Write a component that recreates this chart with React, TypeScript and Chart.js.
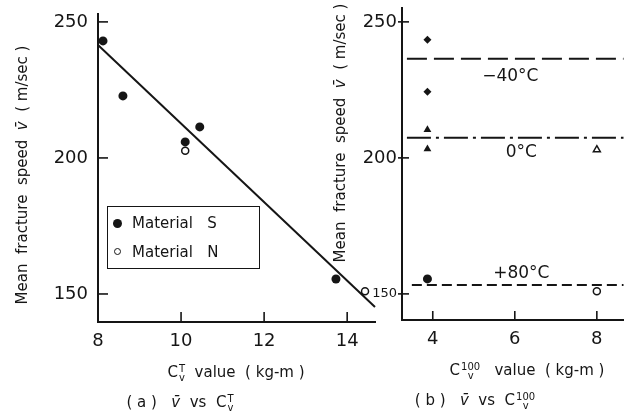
import React, { useEffect, useRef } from 'react';
import { Chart, registerables } from 'chart.js';

Chart.register(...registerables);

const INK = '#151515';
const FONT = '"DejaVu Sans", sans-serif';

// ---------- Panel (a): mean fracture speed vs Cv^T ----------
const A_X_TICKS = [8, 10, 12, 14];
const A_Y_TICKS = [150, 200, 250];
const A_X_RANGE = [8, 14.67];
const A_Y_RANGE = [139.7, 252.9];
const S_CV = [8.12, 8.6, 10.1, 10.45, 13.73];
const S_V = [243, 222.8, 205.9, 211.4, 155.5];
const N_CV = [10.1, 14.43];
const N_V = [202.6, 151];
const FIT_CV = [8, 14.67];
const FIT_V = [241.5, 145.2];

// ---------- Panel (b): mean fracture speed vs Cv^100 ----------
const B_X_TICKS = [4, 6, 8];
const B_Y_TICKS = [150, 200, 250];
const B_X_RANGE = [3.25, 8.65];
const B_Y_RANGE = [140.4, 255.1];
const M40_CV = [3.87, 3.87];
const M40_V = [243.4, 224.3];
const Z_S_CV = [3.87, 3.87];
const Z_S_V = [210.3, 203.3];
const Z_N_CV = [8];
const Z_N_V = [203];
const P80_S_CV = [3.87];
const P80_S_V = [155.5];
const P80_N_CV = [8];
const P80_N_V = [151];
const LEVEL_TEMPS = ['\u221240\u00b0C', '0\u00b0C', '+80\u00b0C'];
const LEVEL_V = [236.4, 207.4, 153.3];
const LEVEL_START = [3.37, 3.37, 3.49];
const LEVEL_END = [8.65, 8.65, 8.65];
const LEVEL_DASH = [[20, 7], [24, 5, 3, 5], [10, 5]];
const LABEL_CV = [5.89, 6.16, 6.16];
const LABEL_V = [229.8, 201.8, 157.4];

const pts = (xs: number[], ys: number[]) => xs.map((x, i) => ({ x, y: ys[i] }));

function tickPlugin(xLen: number, yOut: number, yIn: number) {
  return {
    id: 'inwardTicks',
    afterDatasetsDraw(chart: any) {
      const { ctx, chartArea } = chart;
      const xs = chart.scales.x;
      const ys = chart.scales.y;
      ctx.save();
      ctx.strokeStyle = INK;
      ctx.lineWidth = 1.6;
      xs.ticks.forEach((t: any) => {
        const px = xs.getPixelForValue(t.value);
        if (Math.abs(px - chartArea.left) < 3) return;
        ctx.beginPath();
        ctx.moveTo(px, chartArea.bottom);
        ctx.lineTo(px, chartArea.bottom - xLen);
        ctx.stroke();
      });
      ys.ticks.forEach((t: any) => {
        const py = ys.getPixelForValue(t.value);
        ctx.beginPath();
        ctx.moveTo(chartArea.left - yOut, py);
        ctx.lineTo(chartArea.left + yIn, py);
        ctx.stroke();
      });
      ctx.restore();
    },
  };
}

const levelLabelPlugin = {
  id: 'levelLabels',
  afterDatasetsDraw(chart: any) {
    const { ctx } = chart;
    const xs = chart.scales.x;
    const ys = chart.scales.y;
    ctx.save();
    ctx.fillStyle = INK;
    ctx.font = `17px ${FONT}`;
    ctx.textAlign = 'center';
    ctx.textBaseline = 'middle';
    LEVEL_TEMPS.forEach((t, i) => {
      ctx.fillText(t, xs.getPixelForValue(LABEL_CV[i]), ys.getPixelForValue(LABEL_V[i]));
    });
    ctx.restore();
  },
};

const noPad = (s: any) => {
  s.paddingTop = 0;
  s.paddingBottom = 0;
  s.paddingLeft = 0;
  s.paddingRight = 0;
};

function baseScales(
  xr: number[], yr: number[], xt: number[], yt: number[],
  yWidth: number, xHeight: number, yPad: number, yFont: (v: number) => number
) {
  return {
    x: {
      type: 'linear',
      min: xr[0],
      max: xr[1],
      afterBuildTicks: (s: any) => { s.ticks = xt.map((v) => ({ value: v })); },
      afterFit: (s: any) => { s.height = xHeight; noPad(s); },
      grid: { display: false, drawTicks: false },
      border: { display: true, color: INK, width: 2 },
      ticks: { color: INK, font: { family: FONT, size: 18 }, padding: 9, maxRotation: 0, autoSkip: false },
    },
    y: {
      type: 'linear',
      min: yr[0],
      max: yr[1],
      afterBuildTicks: (s: any) => { s.ticks = yt.map((v) => ({ value: v })); },
      afterFit: (s: any) => { s.width = yWidth; noPad(s); },
      grid: { display: false, drawTicks: false },
      border: { display: true, color: INK, width: 2 },
      ticks: {
        color: INK,
        padding: yPad,
        autoSkip: false,
        font: (c: any) => ({ family: FONT, size: yFont(c.tick ? c.tick.value : 0) }),
      },
    },
  };
}

function PanelA() {
  const ref = useRef<HTMLCanvasElement>(null);
  useEffect(() => {
    const chart = new Chart(ref.current as HTMLCanvasElement, {
      type: 'scatter',
      data: {
        datasets: [
          {
            label: 'fit',
            data: pts(FIT_CV, FIT_V),
            showLine: true,
            borderColor: INK,
            borderWidth: 2,
            pointRadius: 0,
            clip: false,
          } as any,
          {
            label: 'Material S',
            data: pts(S_CV, S_V),
            pointStyle: 'circle',
            pointRadius: 4.5,
            backgroundColor: INK,
            borderColor: INK,
            borderWidth: 0,
            clip: false,
          },
          {
            label: 'Material N',
            data: pts(N_CV, N_V),
            pointStyle: 'circle',
            pointRadius: 3.5,
            backgroundColor: '#fff',
            borderColor: INK,
            borderWidth: 1.5,
            clip: false,
          },
        ],
      },
      options: {
        animation: false,
        responsive: false,
        devicePixelRatio: 1,
        layout: { padding: { left: 0, top: 14, right: 15, bottom: 0 } },
        plugins: { legend: { display: false }, tooltip: { enabled: false } },
        scales: baseScales(A_X_RANGE, A_Y_RANGE, A_X_TICKS, A_Y_TICKS, 98, 90, 10, () => 18) as any,
      },
      plugins: [tickPlugin(10, 0, 10)],
    });
    return () => chart.destroy();
  }, []);
  return (
    <canvas ref={ref} width={390} height={412}
      style={{ position: 'absolute', left: 0, top: 0, display: 'block' }} />
  );
}

function PanelB() {
  const ref = useRef<HTMLCanvasElement>(null);
  useEffect(() => {
    const levelSets = LEVEL_TEMPS.map((t, i) => ({
      label: t,
      data: pts([LEVEL_START[i], LEVEL_END[i]], [LEVEL_V[i], LEVEL_V[i]]),
      showLine: true,
      borderColor: INK,
      borderWidth: 2,
      borderDash: LEVEL_DASH[i],
      pointRadius: 0,
      clip: false,
    }));
    const chart = new Chart(ref.current as HTMLCanvasElement, {
      type: 'scatter',
      data: {
        datasets: [
          ...(levelSets as any[]),
          {
            label: '-40 S',
            data: pts(M40_CV, M40_V),
            pointStyle: 'rectRot',
            pointRadius: 4,
            backgroundColor: INK,
            borderColor: INK,
            borderWidth: 0,
            clip: false,
          },
          {
            label: '0 S',
            data: pts(Z_S_CV, Z_S_V),
            pointStyle: 'triangle',
            pointRadius: 4.5,
            backgroundColor: INK,
            borderColor: INK,
            borderWidth: 0,
            clip: false,
          },
          {
            label: '0 N',
            data: pts(Z_N_CV, Z_N_V),
            pointStyle: 'triangle',
            pointRadius: 4,
            backgroundColor: '#fff',
            borderColor: INK,
            borderWidth: 1.5,
            clip: false,
          },
          {
            label: '+80 S',
            data: pts(P80_S_CV, P80_S_V),
            pointStyle: 'circle',
            pointRadius: 4.5,
            backgroundColor: INK,
            borderColor: INK,
            borderWidth: 0,
            clip: false,
          },
          {
            label: '+80 N',
            data: pts(P80_N_CV, P80_N_V),
            pointStyle: 'circle',
            pointRadius: 3.5,
            backgroundColor: '#fff',
            borderColor: INK,
            borderWidth: 1.5,
            clip: false,
          },
        ],
      },
      options: {
        animation: false,
        responsive: false,
        devicePixelRatio: 1,
        layout: { padding: { left: 0, top: 8, right: 4, bottom: 0 } },
        plugins: { legend: { display: false }, tooltip: { enabled: false } },
        scales: baseScales(B_X_RANGE, B_Y_RANGE, B_X_TICKS, B_Y_TICKS, 82, 92, 5, (v) => (v === 150 ? 13 : 18)) as any,
      },
      plugins: [tickPlugin(9, 4, 7), levelLabelPlugin],
    });
    return () => chart.destroy();
  }, []);
  return (
    <canvas ref={ref} width={309} height={412}
      style={{ position: 'absolute', left: 320, top: 0, display: 'block' }} />
  );
}

function CSub({ sup }: { sup: string }) {
  return (
    <span>
      C
      <span style={{ display: 'inline-flex', flexDirection: 'column', fontSize: 10, lineHeight: '9px', verticalAlign: 'middle', marginLeft: 1 }}>
        <span>{sup}</span>
        <span>v</span>
      </span>
    </span>
  );
}

const txt: React.CSSProperties = {
  position: 'absolute',
  fontFamily: FONT,
  color: INK,
  fontSize: 15,
  lineHeight: '20px',
  textAlign: 'center',
  whiteSpace: 'pre',
};

const VBAR = <i>v{'\u0304'}</i>;

function YTitle({ cx, cy }: { cx: number; cy: number }) {
  return (
    <div style={{ ...txt, width: 280, height: 20, left: cx - 140, top: cy - 10, transform: 'rotate(-90deg)', transformOrigin: 'center' }}>
      Mean  fracture  speed  {VBAR}  ( m/sec )
    </div>
  );
}

export default function App() {
  return (
    <div style={{ position: 'absolute', left: 0, top: 0, width: 629, height: 412, background: '#fff', overflow: 'hidden' }}>
      <PanelA />
      <PanelB />
      <YTitle cx={22} cy={175} />
      <YTitle cx={340} cy={133} />
      <div style={{ ...txt, left: 136, top: 362, width: 200 }}>
        <CSub sup="T" />  value  ( kg-m )
      </div>
      <div style={{ ...txt, left: 80, top: 392, width: 200 }}>
        ( a )   {VBAR}  vs  <CSub sup="T" />
      </div>
      <div style={{ ...txt, left: 427, top: 360, width: 200 }}>
        <CSub sup="100" />   value  ( kg-m )
      </div>
      <div style={{ ...txt, left: 375, top: 390, width: 200 }}>
        ( b )   {VBAR}  vs  <CSub sup="100" />
      </div>
      <div style={{ position: 'absolute', left: 107, top: 206, width: 153, height: 63, border: `1.5px solid ${INK}`, boxSizing: 'border-box', fontFamily: FONT, fontSize: 15, color: INK }}>
        <div style={{ position: 'absolute', left: 5, top: 12, width: 9, height: 9, borderRadius: '50%', background: INK }} />
        <div style={{ position: 'absolute', left: 24, top: 6, lineHeight: '20px', whiteSpace: 'pre' }}>Material   S</div>
        <div style={{ position: 'absolute', left: 6, top: 41, width: 7, height: 7, borderRadius: '50%', border: `1.5px solid ${INK}`, boxSizing: 'border-box' }} />
        <div style={{ position: 'absolute', left: 24, top: 35, lineHeight: '20px', whiteSpace: 'pre' }}>Material   N</div>
      </div>
    </div>
  );
}
